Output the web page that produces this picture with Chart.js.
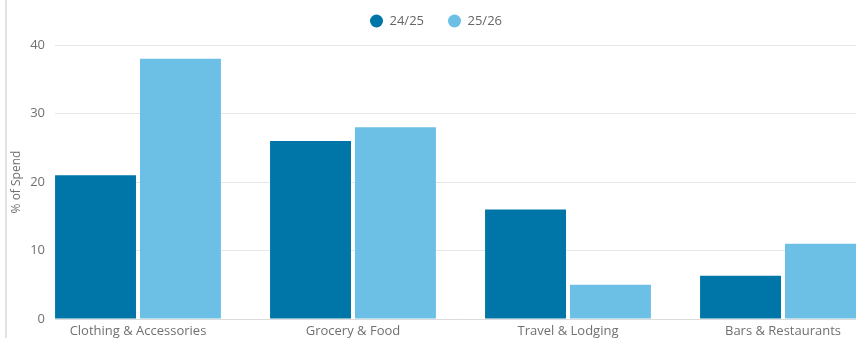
<!DOCTYPE html>
<html>
<head>
<meta charset="utf-8">
<script src="https://cdn.jsdelivr.net/npm/chart.js@4.4.1/dist/chart.umd.min.js"></script>
<style>
  html, body { margin: 0; padding: 0; background: #fff; overflow: hidden; }
  #frame { position: absolute; left: 5px; top: 0; width: 849px; height: 338px; border-left: 2px solid #e3e3e3; overflow: hidden; }
  #box { position: relative; width: 858px; height: 338px; }
</style>
</head>
<body>
<div id="frame"><div id="box"><canvas id="spendChart"></canvas></div></div>
<script>
const categories = ['Clothing & Accessories', 'Grocery & Food', 'Travel & Lodging', 'Bars & Restaurants'];
const seriesNames = ['24/25', '25/26'];
const spend2425 = [21, 26, 16, 6.3];
const spend2526 = [38, 28, 5, 11];
const yTicks = [0, 10, 20, 30, 40];

Chart.defaults.font.family = "'Open Sans', sans-serif";
Chart.defaults.font.size = 13;
Chart.defaults.color = '#707070';

// put some room between the legend and the plot
const legendGap = {
  id: 'legendGap',
  beforeInit(chart) {
    const fit = chart.legend.fit;
    chart.legend.fit = function () {
      fit.bind(chart.legend)();
      this.height += 7.5;
    };
  }
};

const toPoints = (vals) => vals.map((v, i) => ({ x: i, y: v }));

const ctx = document.getElementById('spendChart').getContext('2d');
new Chart(ctx, {
  type: 'bar',
  data: {
    datasets: [
      { label: seriesNames[0], data: toPoints(spend2425), backgroundColor: '#0076a8' },
      { label: seriesNames[1], data: toPoints(spend2526), backgroundColor: '#6dc0e5' }
    ]
  },
  plugins: [legendGap],
  options: {
    responsive: true,
    maintainAspectRatio: false,
    animation: false,
    categoryPercentage: 0.79,
    barPercentage: 0.953,
    layout: { padding: { top: -9.5, left: 0, right: 0, bottom: 0 } },
    plugins: {
      tooltip: { enabled: false },
      legend: {
        position: 'top',
        labels: {
          usePointStyle: true,
          pointStyle: 'circle',
          boxWidth: 13,
          boxHeight: 9.2,
          padding: 24,
          color: '#666',
          font: { size: 13 }
        }
      }
    },
    scales: {
      x: {
        type: 'linear',
        offset: false,
        min: -0.386,
        max: 3.3814,
        afterBuildTicks: (axis) => { axis.ticks = categories.map((c, i) => ({ value: i })); },
        afterFit: (axis) => { axis.height = 19; },
        ticks: {
          autoSkip: false,
          maxRotation: 0,
          padding: 4,
          color: '#707070',
          callback: (v) => categories[v]
        },
        grid: { display: false, drawTicks: false },
        border: { display: true, color: '#dcdcdc' }
      },
      y: {
        min: yTicks[0],
        max: yTicks[yTicks.length - 1],
        afterFit: (axis) => { axis.width = 48; },
        ticks: { stepSize: 10, padding: 10, color: '#707070' },
        grid: { color: '#e6e6e6', drawTicks: false },
        border: { display: false },
        title: {
          display: true,
          text: '% of Spend',
          color: '#707070',
          font: { size: 12 },
          padding: { top: 2, bottom: 2 }
        }
      }
    }
  }
});
</script>
</body>
</html>
